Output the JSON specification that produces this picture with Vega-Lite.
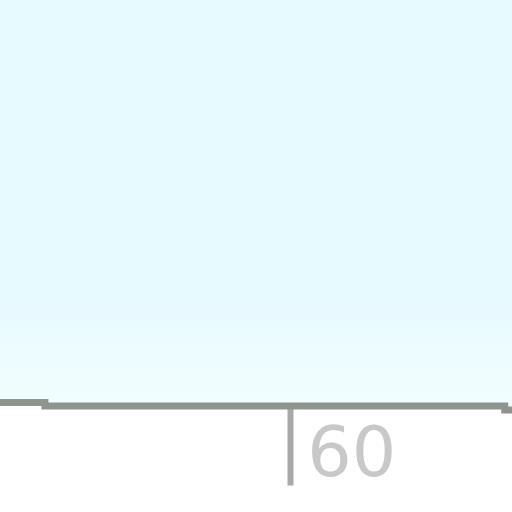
{
  "$schema": "https://vega.github.io/schema/vega-lite/v6.json",
  "width": 512,
  "height": 512,
  "autosize": {"type": "none"},
  "padding": 0,
  "background": "white",
  "data": {
    "values": [
      {"x": 0, "v": 21.4},
      {"x": 9.3, "v": 20.7},
      {"x": 104.5, "v": 19.9},
      {"x": 106, "v": 19.9}
    ]
  },
  "encoding": {
    "x": {
      "field": "x",
      "type": "quantitative",
      "scale": {"domain": [0, 106], "nice": false, "zero": false},
      "axis": {
        "values": [60],
        "title": null,
        "domain": false,
        "grid": false,
        "offset": -106,
        "tickSize": 79,
        "tickWidth": 6,
        "tickColor": "#a6a9a6",
        "labelFont": "DejaVu Sans",
        "labelFontSize": 70,
        "labelColor": "#c8c8c8",
        "labelAlign": "left",
        "labelBaseline": "alphabetic",
        "labelOffset": 17,
        "labelPadding": -10,
        "labelOverlap": false,
        "labelFlush": false,
        "encode": {
          "labels": {
            "update": {
              "fill": {
                "value": {
                  "gradient": "linear",
                  "x1": 0, "y1": 0, "x2": 0, "y2": 1,
                  "stops": [
                    {"offset": 0, "color": "#b4b6b4"},
                    {"offset": 1, "color": "#dcdcdc"}
                  ]
                }
              }
            }
          }
        }
      }
    },
    "y": {
      "field": "v",
      "type": "quantitative",
      "scale": {"domain": [0, 100], "nice": false},
      "axis": null
    }
  },
  "layer": [
    {
      "mark": {
        "type": "area",
        "interpolate": "step-after",
        "color": {
          "gradient": "linear",
          "x1": 0, "y1": 0, "x2": 0, "y2": 1,
          "stops": [
            {"offset": 0, "color": "#e6faff"},
            {"offset": 0.72, "color": "#e7faff"},
            {"offset": 1, "color": "#f2feff"}
          ]
        }
      },
      "encoding": {"y2": {"datum": 100}}
    },
    {
      "mark": {"type": "line", "interpolate": "step-after", "color": "#8f948f", "strokeWidth": 7}
    }
  ],
  "config": {"view": {"stroke": null}}
}
